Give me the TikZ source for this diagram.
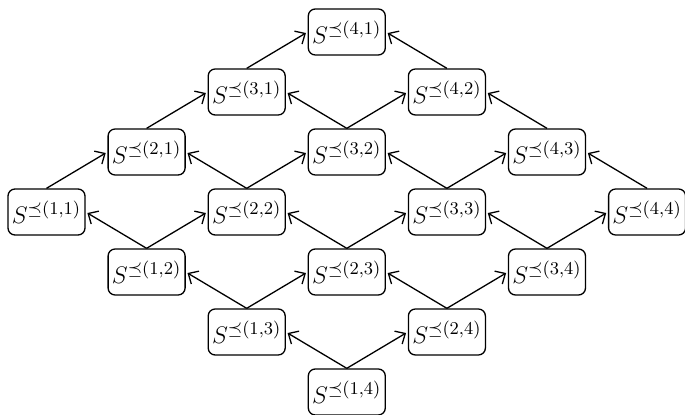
\documentclass[tikz,border=0pt]{standalone}
\usetikzlibrary{arrows.meta}
\begin{document}
\begin{tikzpicture}[x=0.5pt,y=-0.5pt,
  box/.style={draw,line width=0.65pt,rounded corners=3.5pt,minimum width=38.5pt,minimum height=23pt,inner sep=1pt,font=\fontsize{12.5}{15}\selectfont},
  arr/.style={line width=0.65pt,-{Straight Barb[length=4pt,width=7.5pt]},shorten >=1pt}]
\useasboundingbox (0,0) rectangle (685,415);
\foreach \i in {1,...,4}{\foreach \j in {1,...,4}{
  \pgfmathsetmacro\cx{46.5+100.1*(\i+\j-2)}
  \pgfmathsetmacro\cy{32+60*(3-\i+\j)}
  \node[box] (n\i\j) at (\cx,\cy) {$S^{\preceq(\i,\j)}$};
}}
\foreach \i in {1,2,3}{\foreach \j in {1,...,4}{
  \pgfmathtruncatemacro\k{\i+1}
  \draw[arr] (n\i\j.north) -- (n\k\j.west);
}}
\foreach \i in {1,...,4}{\foreach \j in {2,3,4}{
  \pgfmathtruncatemacro\m{\j-1}
  \draw[arr] (n\i\j.north) -- (n\i\m.east);
}}
\end{tikzpicture}
\end{document}
